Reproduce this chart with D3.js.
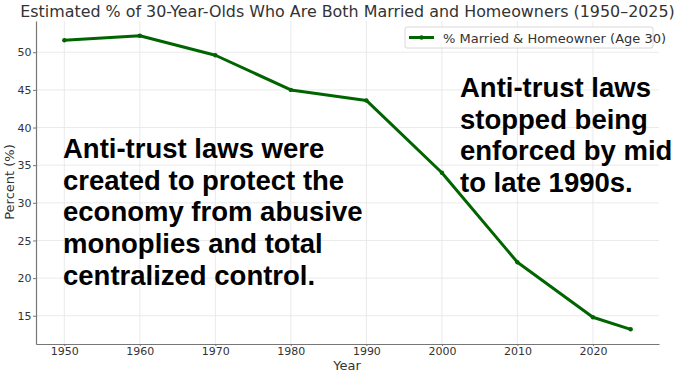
<!DOCTYPE html>
<html>
<head>
<meta charset="utf-8">
<script src="https://cdn.jsdelivr.net/npm/d3@7"></script>
<style>
  body { margin: 0; background: #fff; }
  text { font-family: "DejaVu Sans", sans-serif; }
</style>
</head>
<body>
<div id="chart"></div>
<script>
// data
const years = [1950, 1960, 1970, 1980, 1990, 2000, 2010, 2020, 2025];
const pctMarriedOwner = [51.6, 52.2, 49.6, 45.0, 43.6, 34.0, 22.1, 14.8, 13.2];
const xTicks = [1950, 1960, 1970, 1980, 1990, 2000, 2010, 2020];
const yTicks = [15, 20, 25, 30, 35, 40, 45, 50];
const leftNote = ["Anti-trust laws were", "created to protect the", "economy from abusive", "monoplies and total", "centralized control."];
const rightNote = ["Anti-trust laws", "stopped being", "enforced by mid", "to late 1990s."];

const width = 679, height = 377;
const lineColor = "#006400";
const textColor = "#333";

const svg = d3.select("#chart").append("svg")
  .attr("width", width)
  .attr("height", height);

const x = d3.scaleLinear().domain([1946.25, 2028.75]).range([36, 659]);
const y = d3.scaleLinear().domain([11.25, 54.15]).range([344, 21]);

// grid
svg.append("g").selectAll("line").data(xTicks).enter().append("line")
  .attr("x1", d => x(d)).attr("x2", d => x(d))
  .attr("y1", y.range()[1]).attr("y2", y.range()[0])
  .attr("stroke", "#e5e5e5").attr("stroke-width", 0.8);
svg.append("g").selectAll("line").data(yTicks).enter().append("line")
  .attr("x1", x.range()[0]).attr("x2", x.range()[1])
  .attr("y1", d => y(d)).attr("y2", d => y(d))
  .attr("stroke", "#e5e5e5").attr("stroke-width", 0.8);

// axes (left and bottom spines only)
const xAxis = svg.append("g")
  .attr("transform", "translate(0," + y.range()[0] + ")")
  .call(d3.axisBottom(x).tickValues(xTicks).tickFormat(d3.format("d"))
    .tickSize(2).tickSizeOuter(0).tickPadding(1.5));
const yAxis = svg.append("g")
  .attr("transform", "translate(" + x.range()[0] + ",0)")
  .call(d3.axisLeft(y).tickValues(yTicks).tickSize(3).tickSizeOuter(0).tickPadding(1.5));
[xAxis, yAxis].forEach(a => {
  a.select(".domain").attr("stroke", "#777").attr("stroke-width", 1.2);
  a.selectAll(".tick line").attr("stroke", "#777");
  a.selectAll("text").attr("fill", textColor).style("font-size", "11px");
});

// title and axis labels
svg.append("text").attr("x", (x.range()[0] + x.range()[1]) / 2).attr("y", 17)
  .attr("text-anchor", "middle")
  .attr("fill", textColor).style("font-size", "15.9px")
  .text("Estimated % of 30-Year-Olds Who Are Both Married and Homeowners (1950–2025)");
svg.append("text").attr("x", 347).attr("y", 370)
  .attr("text-anchor", "middle").attr("fill", textColor).style("font-size", "13px")
  .text("Year");
svg.append("text").attr("transform", "translate(14,182) rotate(-90)")
  .attr("text-anchor", "middle").attr("fill", textColor).style("font-size", "13px")
  .text("Percent (%)");

// line
const line = d3.line().x((d, i) => x(years[i])).y(d => y(d));
svg.append("path").datum(pctMarriedOwner)
  .attr("d", line)
  .attr("fill", "none")
  .attr("stroke", lineColor)
  .attr("stroke-width", 3)
  .attr("stroke-linejoin", "round");
svg.append("g").selectAll("circle").data(pctMarriedOwner).enter().append("circle")
  .attr("cx", (d, i) => x(years[i])).attr("cy", d => y(d))
  .attr("r", 2.2).attr("fill", lineColor);

// legend
const lg = svg.append("g").attr("transform", "translate(405,27)");
lg.append("rect").attr("width", 248).attr("height", 21).attr("rx", 2)
  .attr("fill", "#fff").attr("fill-opacity", 0.85)
  .attr("stroke", "#d8d8d8");
lg.append("line").attr("x1", 4).attr("x2", 29).attr("y1", 10.5).attr("y2", 10.5)
  .attr("stroke", lineColor).attr("stroke-width", 3);
lg.append("circle").attr("cx", 16.5).attr("cy", 10.5).attr("r", 2.2).attr("fill", lineColor);
lg.append("text").attr("x", 38).attr("y", 15.5)
  .attr("fill", textColor).style("font-size", "13px")
  .text("% Married & Homeowner (Age 30)");

// annotations
function note(lines, x0, y0) {
  svg.append("g").selectAll("text").data(lines).enter().append("text")
    .attr("x", x0).attr("y", (d, i) => y0 + i * 31.7)
    .style("font-family", "'Liberation Sans', Arial, sans-serif")
    .style("font-weight", "bold").style("font-size", "27.5px")
    .attr("fill", "#000")
    .text(d => d);
}
note(leftNote, 63, 158);
note(rightNote, 460, 97);
</script>
</body>
</html>
